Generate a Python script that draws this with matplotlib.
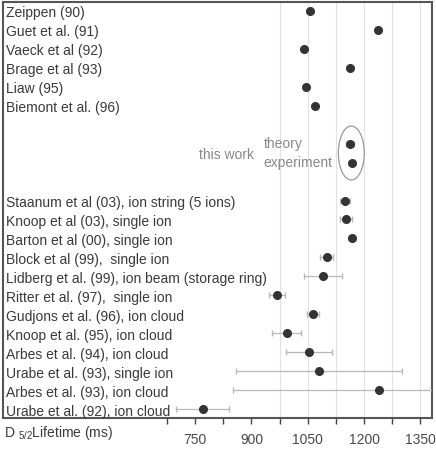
import matplotlib
matplotlib.use('Agg')
from matplotlib import pyplot as plt
from matplotlib.patches import Ellipse

plt.rcParams['font.family'] = ['Liberation Sans', 'DejaVu Sans']
plt.rcParams['mathtext.default'] = 'regular'

# theory values (no error bars)
theory_labels = ['Zeippen (90)', 'Guet et al. (91)', 'Vaeck et al (92)', 'Brage et al (93)',
                 'Liaw (95)', 'Biemont et al. (96)']
theory_values = [1057, 1236, 1040, 1163, 1044, 1070]

# this work: theory, experiment
this_work_names = ['theory', 'experiment']
this_work_values = [1163, 1168]
this_work_errors = [11, 7]

# experimental values
exp_labels = ['Staanum et al (03), ion string (5 ions)', 'Knoop et al (03), single ion',
              'Barton et al (00), single ion', 'Block et al (99),  single ion',
              'Lidberg et al. (99), ion beam (storage ring)', 'Ritter et al. (97),  single ion',
              'Gudjons et al. (96), ion cloud', 'Knoop et al. (95), ion cloud',
              'Arbes et al. (94), ion cloud', 'Urabe et al. (93), single ion',
              'Arbes et al. (93), ion cloud', 'Urabe et al. (92), ion cloud']
exp_values = [1149, 1152, 1168, 1100, 1090, 969, 1064, 994, 1054, 1080, 1240, 770]
exp_errors = [14, 15, 7, 18, 50, 21, 17, 38, 61, 220, 390, 70]

major_ticks = [750, 900, 1050, 1200, 1350]
minor_ticks = [675, 825, 975, 1125, 1275]
grid_x = [975, 1050, 1125, 1200, 1275, 1350]

dark = '#333333'
text_col = '#3a3a3a'
err_col = '#b8b8b8'

fig = plt.figure(figsize=(4.36, 4.51), dpi=100)
ax = fig.add_axes([3 / 436, 1 - 418 / 451, 429 / 436, 416 / 451])

for gx in grid_x:
    ax.axvline(gx, color='#e2e2e2', lw=0.8, zorder=0)

theory_rows = list(range(len(theory_labels)))
tw_rows = [7, 8]
exp_rows = [10 + i for i in range(len(exp_labels))]

ax.plot(theory_values, theory_rows, 'o', color=dark, ms=5.5, zorder=3)
ax.errorbar(this_work_values, tw_rows, xerr=this_work_errors, fmt='o', color=dark, ms=5.5,
            ecolor=err_col, elinewidth=0.9, capsize=2.5, zorder=3)
ax.errorbar(exp_values, exp_rows, xerr=exp_errors, fmt='o', color=dark, ms=5.5,
            ecolor=err_col, elinewidth=0.9, capsize=2.5, zorder=3)

x_text = 246
dy = 0.12
for lab, r in zip(theory_labels, theory_rows):
    ax.text(x_text, r + dy, lab, fontsize=10, color=text_col, va='center', ha='left')
for lab, r in zip(exp_labels, exp_rows):
    ax.text(x_text, r + dy, lab, fontsize=10, color=text_col, va='center', ha='left')

ax.text(760, 7.5 + dy, 'this work', fontsize=10, color='#888888', va='center', ha='left')
for name, r in zip(this_work_names, tw_rows):
    ax.text(933, r, name, fontsize=10, color='#888888', va='center', ha='left')
ax.add_patch(Ellipse((1166, 7.5), 69, 2.84, fill=False, edgecolor='#999999', lw=0.9, zorder=2))

ax.set_xlim(238, 1381)
ax.set_ylim(21.45, -0.45)
ax.set_yticks([])
ax.set_xticks(major_ticks)
ax.set_xticks(minor_ticks, minor=True)
ax.tick_params(axis='x', which='both', direction='out', length=4, width=1, color='#444444',
               labelsize=10, labelcolor='#4a4a4a', pad=7)
for sp in ax.spines.values():
    sp.set_color('#555555')
    sp.set_linewidth(1.5)

fig.text(4 / 436, 1 - 437 / 451, r'D $_{5/2}$Lifetime (ms)', fontsize=10, color=text_col,
         ha='left', va='baseline')

fig.savefig('out.png', dpi=100)
